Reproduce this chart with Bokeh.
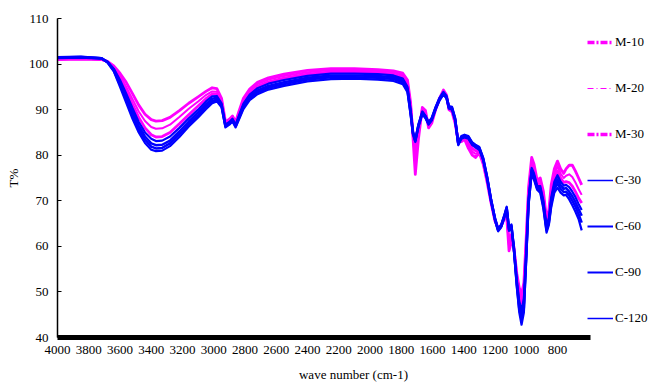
from bokeh.plotting import figure
from bokeh.models import Range1d, FixedTicker, Legend, LegendItem, ColumnDataSource
from bokeh.embed import file_html
from bokeh.resources import INLINE

wavenumber = [4000, 3850, 3720, 3680, 3640, 3600, 3560, 3520, 3480, 3440, 3400, 3370, 3330, 3280,
              3220, 3160, 3100, 3050, 3010, 2980, 2950, 2925, 2900, 2880, 2860, 2840, 2810, 2770,
              2720, 2650, 2550, 2400, 2250, 2100, 1950, 1850, 1790, 1760, 1740, 1725, 1710, 1690,
              1665, 1645, 1625, 1605, 1580, 1555, 1530, 1510, 1495, 1475, 1455, 1435, 1415, 1395,
              1370, 1345, 1325, 1300, 1275, 1250, 1225, 1200, 1180, 1160, 1140, 1125, 1110, 1095,
              1080, 1060, 1045, 1030, 1015, 1000, 985, 965, 950, 930, 910, 890, 870, 855, 840,
              820, 800, 780, 760, 745, 725, 705, 685, 665, 645]

m10 = [101.0, 101.1, 101.0, 100.6, 99.6, 98.0, 96.0, 93.5, 91.0, 89.0, 87.8, 87.5, 87.6, 88.3,
       89.8, 91.4, 92.8, 94.0, 94.8, 94.6, 92.5, 87.3, 87.9, 88.6, 87.3, 89.5, 92.5, 94.5,
       96.0, 97.0, 97.8, 98.6, 99.0, 99.0, 98.8, 98.5, 98.0, 96.5, 91.5, 84.0, 75.8, 83.5,
       90.5, 89.8, 86.0, 87.0, 90.0, 92.5, 94.3, 93.2, 90.0, 89.5, 87.0, 83.0, 83.0, 83.5,
       81.5, 80.0, 79.5, 80.5, 78.0, 74.0, 69.5, 65.5, 64.0, 64.5, 66.0, 66.5, 59.0, 61.0,
       60.0, 54.0, 51.0, 49.5, 52.0, 62.0, 73.0, 79.5, 78.0, 74.5, 75.0, 72.0, 66.0, 68.0, 73.5,
       77.0, 78.7, 77.0, 76.0, 77.0, 77.8, 77.8, 76.5, 75.0, 73.5]
m20 = [101.1, 101.2, 101.0, 100.5, 99.4, 97.5, 95.0, 92.3, 89.6, 87.5, 86.2, 85.8, 85.9, 86.7,
       88.4, 90.2, 91.8, 93.2, 94.0, 93.9, 92.0, 87.1, 87.7, 88.4, 87.1, 89.2, 92.1, 94.1,
       95.6, 96.6, 97.4, 98.2, 98.7, 98.7, 98.5, 98.2, 97.6, 96.0, 91.0, 84.5, 78.0, 84.5,
       90.2, 89.4, 86.4, 87.3, 90.1, 92.4, 94.1, 93.0, 90.2, 89.8, 87.3, 82.8, 83.3, 83.8,
       82.2, 80.8, 80.3, 80.8, 78.3, 74.3, 69.7, 65.7, 63.9, 64.5, 66.2, 67.0, 60.0, 61.8,
       60.0, 53.5, 50.0, 48.5, 51.0, 61.0, 72.0, 78.5, 77.2, 74.0, 74.4, 71.3, 65.5, 67.3, 72.5,
       76.0, 77.6, 76.0, 75.0, 75.5, 75.8, 75.2, 74.0, 72.6, 71.3]
m30 = [101.1, 101.2, 101.1, 100.5, 99.2, 97.0, 94.2, 91.2, 88.3, 86.0, 84.5, 84.0, 84.1, 85.0,
       86.9, 88.9, 90.8, 92.4, 93.4, 93.4, 91.7, 86.9, 87.5, 88.2, 86.9, 88.9, 91.7, 93.7,
       95.1, 96.1, 96.9, 97.8, 98.3, 98.3, 98.1, 97.8, 97.2, 95.5, 90.5, 85.0, 80.0, 85.5,
       90.0, 89.0, 86.8, 87.6, 90.2, 92.3, 93.9, 92.8, 90.4, 90.0, 87.6, 82.7, 83.6, 84.0,
       82.8, 81.5, 81.0, 81.0, 78.6, 74.6, 69.9, 65.9, 63.8, 64.5, 66.4, 67.5, 61.0, 62.6,
       60.0, 53.0, 49.0, 47.5, 50.0, 60.0, 71.0, 77.8, 76.5, 73.6, 73.8, 70.6, 65.0, 66.7, 71.6,
       75.0, 76.6, 75.0, 74.0, 74.2, 74.0, 73.2, 72.0, 70.6, 69.5]
c30 = [101.3, 101.4, 101.2, 100.5, 99.0, 96.5, 93.5, 90.3, 87.3, 85.0, 83.6, 83.1, 83.2, 84.1,
       86.0, 88.1, 90.0, 91.8, 92.9, 93.0, 91.4, 86.7, 87.3, 88.0, 86.7, 88.6, 91.3, 93.3,
       94.7, 95.7, 96.5, 97.4, 97.9, 97.9, 97.8, 97.5, 96.8, 95.0, 90.0, 85.2, 83.5, 86.8,
       89.6, 88.7, 87.3, 88.2, 90.6, 92.6, 93.9, 93.0, 90.8, 90.6, 88.2, 82.8, 84.2, 84.5,
       84.2, 82.8, 82.3, 81.8, 79.4, 75.3, 70.4, 66.3, 63.9, 64.8, 66.9, 68.7, 64.0, 64.8,
       60.2, 52.5, 48.0, 46.0, 48.5, 59.0, 70.5, 77.2, 76.0, 73.3, 73.2, 70.0, 64.5, 66.2, 70.8,
       74.2, 75.6, 74.2, 73.3, 73.5, 73.0, 72.0, 70.8, 69.3, 68.0]
c60 = [101.4, 101.5, 101.3, 100.5, 98.8, 96.0, 92.8, 89.5, 86.5, 84.1, 82.6, 82.2, 82.3, 83.2,
       85.2, 87.4, 89.4, 91.2, 92.4, 92.6, 91.1, 86.5, 87.1, 87.8, 86.5, 88.3, 90.9, 92.9,
       94.2, 95.2, 96.0, 97.0, 97.5, 97.5, 97.4, 97.1, 96.4, 94.6, 89.6, 85.0, 83.3, 86.6,
       89.4, 88.5, 87.1, 88.0, 90.4, 92.4, 93.7, 92.8, 90.6, 90.4, 88.0, 82.6, 84.0, 84.3,
       84.0, 82.6, 82.1, 81.6, 79.2, 75.1, 70.2, 66.1, 63.7, 64.6, 66.7, 68.5, 63.8, 64.6,
       60.0, 52.0, 47.2, 45.0, 47.5, 58.3, 70.0, 76.8, 75.5, 73.0, 72.7, 69.4, 64.0, 65.7, 70.0,
       73.4, 74.7, 73.4, 72.6, 72.8, 72.0, 71.0, 69.7, 68.2, 66.7]
c90 = [101.5, 101.6, 101.3, 100.4, 98.6, 95.5, 92.2, 88.8, 85.8, 83.4, 81.9, 81.5, 81.6, 82.6,
       84.6, 86.8, 88.8, 90.6, 91.9, 92.2, 90.8, 86.3, 86.9, 87.6, 86.3, 88.0, 90.5, 92.5,
       93.8, 94.8, 95.6, 96.6, 97.1, 97.1, 97.0, 96.7, 96.0, 94.2, 89.2, 84.8, 83.1, 86.4,
       89.2, 88.3, 86.9, 87.8, 90.2, 92.2, 93.5, 92.6, 90.4, 90.2, 87.8, 82.4, 83.8, 84.1,
       83.8, 82.4, 81.9, 81.4, 79.0, 74.9, 70.0, 65.9, 63.5, 64.4, 66.5, 68.3, 63.6, 64.4,
       59.8, 51.5, 46.4, 44.0, 46.5, 57.6, 69.5, 76.4, 75.0, 72.7, 72.2, 68.8, 63.5, 65.2, 69.3,
       72.6, 73.8, 72.6, 71.9, 72.0, 71.2, 70.0, 68.7, 67.1, 65.2]
c120 = [101.5, 101.6, 101.3, 100.3, 98.4, 95.0, 91.5, 88.0, 85.0, 82.7, 81.2, 80.9, 81.0, 82.0,
        84.0, 86.3, 88.3, 90.1, 91.4, 91.8, 90.5, 86.1, 86.7, 87.4, 86.1, 87.7, 90.1, 92.1,
        93.4, 94.4, 95.2, 96.2, 96.7, 96.8, 96.6, 96.3, 95.6, 93.8, 88.8, 84.6, 82.9, 86.2,
        89.0, 88.1, 86.7, 87.6, 90.0, 92.0, 93.3, 92.4, 90.2, 90.0, 87.6, 82.2, 83.6, 83.9,
        83.6, 82.2, 81.7, 81.2, 78.8, 74.7, 69.8, 65.7, 63.3, 64.2, 66.3, 68.1, 63.4, 64.2,
        59.6, 51.0, 45.6, 42.8, 45.5, 57.0, 69.0, 76.0, 74.6, 72.4, 71.7, 68.2, 63.0, 64.7, 68.6,
        71.8, 72.9, 71.8, 71.2, 71.3, 70.3, 69.0, 67.6, 66.0, 63.5]

series_names = ["M-10", "M-20", "M-30", "C-30", "C-60", "C-90", "C-120"]
series_values = [m10, m20, m30, c30, c60, c90, c120]
series_colors = ["#FF00FF", "#FF00FF", "#FF00FF", "#0000FF", "#0000FF", "#0000FF", "#0000FF"]
curve_widths = [2.8, 2.0, 2.8, 2.2, 2.5, 2.5, 2.2]
legend_widths = [3.5, 1.0, 3.5, 1.5, 2.0, 2.0, 1.5]
legend_dashes = ["7 2 2 2", "6 3 1 3", "7 2 2 2", "solid", "solid", "solid", "solid"]

x_ticks = [4000, 3800, 3600, 3400, 3200, 3000, 2800, 2600, 2400, 2200, 2000, 1800, 1600, 1400, 1200, 1000, 800]
y_ticks = [40, 50, 60, 70, 80, 90, 100, 110]

FONT = "Liberation Serif"

p = figure(width=649, height=384, output_backend="svg", toolbar_location=None,
           x_range=Range1d(4000, 211), y_range=Range1d(40, 110),
           min_border_left=57, min_border_right=0, min_border_top=18, min_border_bottom=47)
p.outline_line_color = None
p.grid.visible = False

items = []
for name, vals, col, cw, lw, ld in zip(series_names, series_values, series_colors,
                                        curve_widths, legend_widths, legend_dashes):
    src = ColumnDataSource(dict(x=wavenumber, y=vals))
    p.line("x", "y", source=src, line_color=col, line_width=cw, line_join="round")
    # legend-only renderer (hidden in the plot) carrying the legend's line style
    key = p.line("x", "y", source=src, line_color=col, line_width=lw, line_dash=ld, visible=False)
    items.append(LegendItem(label=name, renderers=[key]))

legend = Legend(items=items, location=(530, 9), orientation="vertical",
                glyph_width=26, glyph_height=20, label_height=20, spacing=26,
                label_standoff=2, padding=0, margin=0,
                label_text_font=FONT, label_text_font_size="13px", label_text_color="black",
                inactive_fill_alpha=0, click_policy="none",
                border_line_alpha=0, background_fill_alpha=0)
p.add_layout(legend, "center")

xa = p.xaxis[0]
xa.ticker = FixedTicker(ticks=x_ticks)
xa.bounds = (590, 4000)
xa.axis_line_width = 5
xa.axis_line_color = "black"
xa.major_tick_line_color = None
xa.major_tick_out = 0
xa.major_tick_in = 0
xa.minor_tick_line_color = None
xa.major_label_text_font = FONT
xa.major_label_text_font_size = "13px"
xa.major_label_text_color = "black"
xa.major_label_standoff = 8
xa.axis_label = "wave number (cm-1)"
xa.axis_label_text_font = FONT
xa.axis_label_text_font_size = "13px"
xa.axis_label_text_font_style = "normal"
xa.axis_label_text_color = "black"
xa.axis_label_standoff = 10

ya = p.yaxis[0]
ya.ticker = FixedTicker(ticks=y_ticks)
ya.axis_line_width = 1.5
ya.major_tick_in = 4
ya.major_tick_out = 0
ya.major_tick_line_width = 1.2
ya.minor_tick_line_color = None
ya.major_label_text_font = FONT
ya.major_label_text_font_size = "13px"
ya.major_label_text_color = "black"
ya.major_label_standoff = 9
ya.axis_label = "T%"
ya.axis_label_text_font = FONT
ya.axis_label_text_font_size = "13px"
ya.axis_label_text_font_style = "normal"
ya.axis_label_text_color = "black"
ya.axis_label_standoff = 5

open("out.html", "w").write(file_html(p, INLINE))
